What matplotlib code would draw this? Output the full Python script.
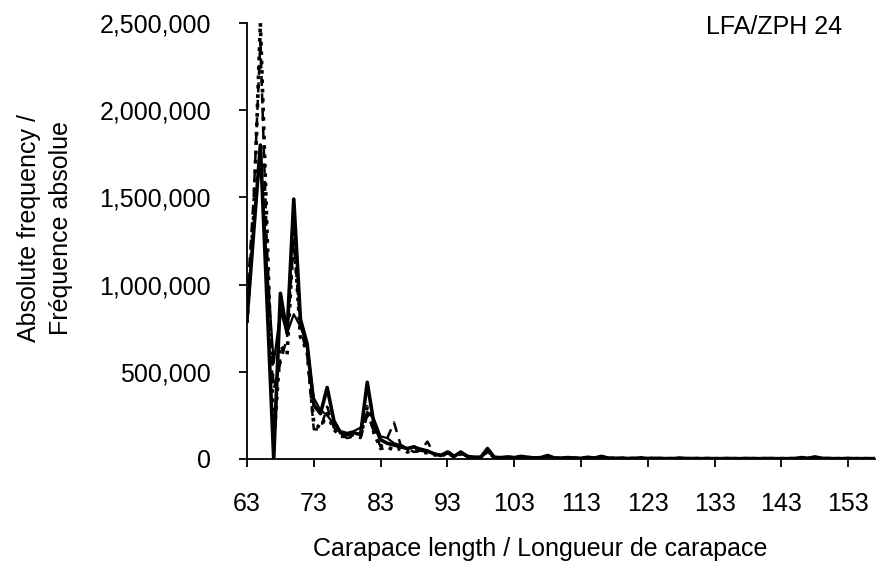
import numpy as np
import matplotlib
matplotlib.use("Agg")
import matplotlib.pyplot as plt
from matplotlib.ticker import FuncFormatter

plt.rcParams['font.family'] = ['Liberation Sans', 'DejaVu Sans']

# Carapace length classes (mm)
lengths = list(range(63, 158))

# Absolute frequencies (thousands) per series
series_thick = [800,1300,1800,900,0,950,720,1490,800,660,
                310,260,410,220,150,140,150,140,440,200,
                110,90,80,70,60,70,50,45,30,20,
                40,15,40,15,10,10,60,
                10,8,12,8,15,10,6,8,20,6,
                5,8,6,4,10,5,15,6,4,5,
                3,4,6,3,4,3,2,3,5,2,
                3,2,3,2,2,3,2,2,3,2,
                2,3,2,2,2,3,8,4,12,4,
                3,2,2,3,2,2,2,2]
series_thin = [800,1350,1750,1100,550,850,720,830,760,650,
               350,280,250,200,160,150,160,180,270,230,
               130,120,90,80,60,70,60,50,30,25,
               30,20,30,15,12,10,40,
               12,8,10,10,12,8,6,7,15,5,
               6,7,5,5,8,6,10,5,4,4,
               3,4,5,3,3,3,2,3,4,2,
               3,2,2,2,2,3,2,2,2,2,
               2,2,2,2,2,3,6,4,8,3,
               3,2,2,2,2,2,2,2]
series_dotted = [780,1400,2500,1300,100,650,600,1300,700,620,
                 200,180,260,170,130,130,140,130,300,150,
                 60,70,50,60,40,50,40,35,25,15,
                 35,12,30,12,8,8,45,
                 8,6,10,6,12,8,5,6,15,5,
                 4,6,5,3,8,4,12,5,3,4,
                 2,3,5,2,3,2,2,2,4,2,
                 2,2,2,2,2,2,2,2,2,2,
                 2,2,2,2,2,2,6,3,10,3,
                 2,2,2,2,2,2,2,2]
series_dashed = [900,1500,2400,1200,400,550,700,1250,750,600,
                 170,170,300,180,140,120,130,120,250,160,
                 70,120,210,80,60,40,50,100,30,20,
                 50,15,35,12,10,10,50,
                 10,8,10,8,14,9,6,8,18,5,
                 5,7,5,4,9,5,12,5,4,4,
                 3,3,5,3,3,3,2,3,4,2,
                 2,2,2,2,2,3,2,2,2,2,
                 2,2,2,2,2,3,7,4,10,3,
                 3,2,2,2,2,2,2,2]

x_ticks = list(range(63, 154, 10))
y_ticks = [0, 500000, 1000000, 1500000, 2000000, 2500000]

fig = plt.figure(figsize=(8.82, 5.64), dpi=100)
ax = fig.add_axes([247/882, 1-459/564, (875-247)/882, (459-23)/564])

k = 1000.0
ax.plot(lengths, np.array(series_dotted)*k, color='black', lw=2.6, ls=(0, (1, 1.6)))
ax.plot(lengths, np.array(series_dashed)*k, color='black', lw=1.8, ls=(0, (4, 3)))
ax.plot(lengths, np.array(series_thin)*k, color='black', lw=1.6, ls='-')
ax.plot(lengths, np.array(series_thick)*k, color='black', lw=2.6, ls='-')

ax.set_xlim(63, 157)
ax.set_ylim(0, 2500000)
ax.set_xticks(x_ticks)
ax.set_yticks(y_ticks)
ax.yaxis.set_major_formatter(FuncFormatter(lambda v, p: f"{int(v):,}"))
ax.spines['top'].set_visible(False)
ax.spines['right'].set_visible(False)
ax.spines['left'].set_linewidth(1.3)
ax.spines['bottom'].set_linewidth(1.3)
ax.tick_params(axis='both', direction='out', length=6, width=1.3, labelsize=18, colors='black')
ax.tick_params(axis='x', pad=18)
ax.tick_params(axis='y', pad=20)

fig.text(540/882, 1-549/564, "Carapace length / Longueur de carapace",
         ha='center', va='center', fontsize=18)
fig.text(45/882, 1-228/564, "Absolute frequency /\nFréquence absolue", rotation=90,
         ha='center', va='center', fontsize=18, multialignment='center', linespacing=1.4)
fig.text(842/882, 1-27/564, "LFA/ZPH 24", ha='right', va='center', fontsize=18)

fig.savefig("out.png", dpi=100)
